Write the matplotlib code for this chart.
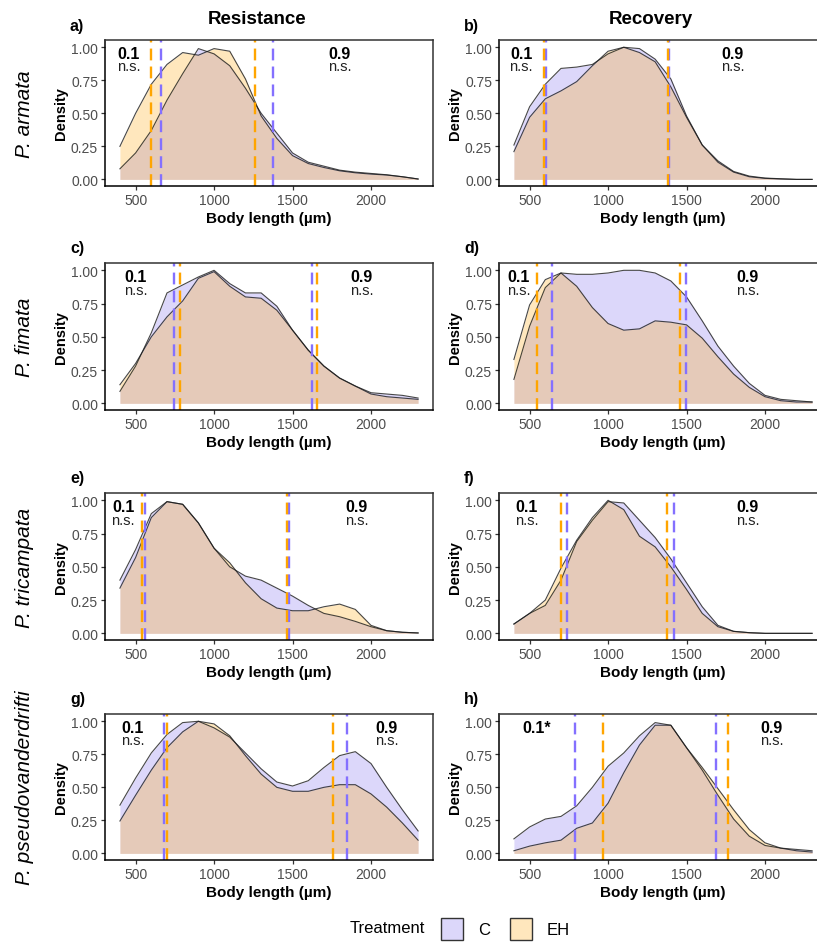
import matplotlib
matplotlib.use("Agg")
import matplotlib.pyplot as plt
from matplotlib.colors import to_rgba
from matplotlib.patches import Patch

plt.rcParams["font.family"] = ["Liberation Sans", "DejaVu Sans"]

# ===================
#  DATA
# ===================

# body lengths (µm) at which the scaled densities are sampled
BODY_LEN = [400, 500, 600, 700, 800, 900, 1000, 1100, 1200, 1300,
            1400, 1500, 1600, 1700, 1800, 1900, 2000, 2100, 2200, 2300]

SPECIES = ["P. armata", "P. fimata", "P. tricampata", "P. pseudovanderdrifti"]
EXPERIMENTS = ["Resistance", "Recovery"]
TREATMENTS = ["C", "EH"]

# scaled densities, one list per species x experiment x treatment
ARMATA_RES_C = [0.08, 0.20, 0.37, 0.60, 0.80, 0.99, 0.95, 0.86, 0.69, 0.50,
                0.35, 0.20, 0.13, 0.10, 0.07, 0.055, 0.045, 0.035, 0.02, 0.003]
ARMATA_RES_EH = [0.25, 0.50, 0.72, 0.87, 0.96, 0.94, 0.99, 0.97, 0.76, 0.48,
                 0.31, 0.18, 0.12, 0.09, 0.065, 0.05, 0.04, 0.033, 0.02, 0.003]
ARMATA_REC_C = [0.26, 0.55, 0.72, 0.84, 0.85, 0.87, 0.95, 1.00, 0.99, 0.91,
                0.76, 0.48, 0.26, 0.14, 0.06, 0.025, 0.01, 0.005, 0.0, 0.0]
ARMATA_REC_EH = [0.21, 0.47, 0.61, 0.67, 0.74, 0.86, 0.97, 1.00, 0.96, 0.89,
                 0.70, 0.47, 0.26, 0.13, 0.055, 0.02, 0.008, 0.003, 0.0, 0.0]

FIMATA_RES_C = [0.09, 0.28, 0.53, 0.83, 0.89, 0.95, 1.00, 0.90, 0.83, 0.83,
                0.73, 0.55, 0.40, 0.28, 0.19, 0.13, 0.08, 0.07, 0.06, 0.04]
FIMATA_RES_EH = [0.14, 0.30, 0.50, 0.65, 0.77, 0.94, 0.99, 0.88, 0.80, 0.79,
                 0.70, 0.55, 0.40, 0.28, 0.19, 0.13, 0.07, 0.05, 0.04, 0.03]
FIMATA_REC_C = [0.18, 0.58, 0.87, 0.98, 0.97, 0.97, 0.98, 1.00, 1.00, 0.98,
                0.92, 0.80, 0.62, 0.43, 0.28, 0.15, 0.06, 0.03, 0.02, 0.01]
FIMATA_REC_EH = [0.33, 0.74, 0.93, 0.98, 0.88, 0.72, 0.60, 0.55, 0.56, 0.62,
                 0.61, 0.59, 0.49, 0.35, 0.22, 0.12, 0.05, 0.02, 0.01, 0.01]

TRICAMP_RES_C = [0.40, 0.63, 0.90, 0.99, 0.97, 0.83, 0.64, 0.50, 0.43, 0.40,
                 0.34, 0.28, 0.21, 0.15, 0.125, 0.09, 0.05, 0.02, 0.008, 0.003]
TRICAMP_RES_EH = [0.34, 0.57, 0.87, 0.99, 0.97, 0.83, 0.64, 0.53, 0.38, 0.26,
                  0.19, 0.17, 0.17, 0.20, 0.22, 0.18, 0.06, 0.02, 0.008, 0.003]
TRICAMP_REC_C = [0.07, 0.15, 0.21, 0.40, 0.69, 0.85, 0.99, 0.98, 0.85, 0.72,
                 0.56, 0.38, 0.20, 0.06, 0.015, 0.005, 0.0, 0.0, 0.0, 0.0]
TRICAMP_REC_EH = [0.07, 0.15, 0.25, 0.49, 0.70, 0.87, 1.00, 0.93, 0.73, 0.65,
                  0.50, 0.33, 0.15, 0.05, 0.015, 0.005, 0.0, 0.0, 0.0, 0.0]

PSEUDO_RES_C = [0.365, 0.57, 0.76, 0.90, 0.99, 1.00, 0.95, 0.88, 0.76, 0.64,
                0.54, 0.51, 0.55, 0.65, 0.74, 0.77, 0.68, 0.50, 0.33, 0.17]
PSEUDO_RES_EH = [0.245, 0.44, 0.63, 0.80, 0.92, 1.00, 0.98, 0.89, 0.74, 0.60,
                 0.50, 0.47, 0.47, 0.50, 0.52, 0.52, 0.45, 0.35, 0.23, 0.10]
PSEUDO_REC_C = [0.11, 0.20, 0.26, 0.28, 0.36, 0.50, 0.66, 0.76, 0.89, 0.99,
                0.97, 0.80, 0.63, 0.44, 0.26, 0.13, 0.06, 0.04, 0.03, 0.02]
PSEUDO_REC_EH = [0.02, 0.055, 0.08, 0.10, 0.19, 0.23, 0.38, 0.61, 0.82, 0.97,
                 0.97, 0.80, 0.65, 0.49, 0.33, 0.18, 0.08, 0.04, 0.02, 0.01]

# 10% and 90% quantiles of body length (µm)
ARMATA_RES_Q = {"C": [661, 1377], "EH": [595, 1260]}
ARMATA_REC_Q = {"C": [605, 1390], "EH": [590, 1385]}
FIMATA_RES_Q = {"C": [746, 1625], "EH": [786, 1653]}
FIMATA_REC_Q = {"C": [645, 1495], "EH": [550, 1460]}
TRICAMP_RES_Q = {"C": [563, 1479], "EH": [542, 1466]}
TRICAMP_REC_Q = {"C": [740, 1420], "EH": [700, 1375]}
PSEUDO_RES_Q = {"C": [680, 1844], "EH": [703, 1755]}
PSEUDO_REC_Q = {"C": [790, 1690], "EH": [965, 1765]}

# quantile test results (0.1, 0.9)
ARMATA_RES_SIG = ["n.s.", "n.s."]
ARMATA_REC_SIG = ["n.s.", "n.s."]
FIMATA_RES_SIG = ["n.s.", "n.s."]
FIMATA_REC_SIG = ["n.s.", "n.s."]
TRICAMP_RES_SIG = ["n.s.", "n.s."]
TRICAMP_REC_SIG = ["n.s.", "n.s."]
PSEUDO_RES_SIG = ["n.s.", "n.s."]
PSEUDO_REC_SIG = ["*", "n.s."]

PANELS = [
    [(ARMATA_RES_C, ARMATA_RES_EH, ARMATA_RES_Q, ARMATA_RES_SIG),
     (ARMATA_REC_C, ARMATA_REC_EH, ARMATA_REC_Q, ARMATA_REC_SIG)],
    [(FIMATA_RES_C, FIMATA_RES_EH, FIMATA_RES_Q, FIMATA_RES_SIG),
     (FIMATA_REC_C, FIMATA_REC_EH, FIMATA_REC_Q, FIMATA_REC_SIG)],
    [(TRICAMP_RES_C, TRICAMP_RES_EH, TRICAMP_RES_Q, TRICAMP_RES_SIG),
     (TRICAMP_REC_C, TRICAMP_REC_EH, TRICAMP_REC_Q, TRICAMP_REC_SIG)],
    [(PSEUDO_RES_C, PSEUDO_RES_EH, PSEUDO_RES_Q, PSEUDO_RES_SIG),
     (PSEUDO_REC_C, PSEUDO_REC_EH, PSEUDO_REC_Q, PSEUDO_REC_SIG)],
]

# x position of the quantile annotations in each panel
LABEL_X = [
    [(455, 1800), (446, 1793)],
    [(500, 1940), (430, 1890)],
    [(421, 1907), (483, 1890)],
    [(481, 2099), (546, 2043)],
]

# ===================
#  STYLE / LAYOUT
# ===================

FILL = {"C": to_rgba("mediumslateblue", 0.26), "EH": to_rgba("orange", 0.26)}
VLINE = {"C": "#8470FF", "EH": "#FFA500"}
DASH = (0, (5, 2.6))
W, H = 817, 945

COL_LEFT = [105, 499]
AX_W = 328
ROWS = [(41, 187), (264, 411), (494, 641), (715, 861)]


def px_box(left, top, bottom):
    return [left / W, 1 - bottom / H, AX_W / W, (bottom - top) / H]


def draw_panel(ax, c, eh, q, sig, lab_x):
    for trt, dens in zip(TREATMENTS, [c, eh]):
        ax.fill_between(BODY_LEN, 0, dens, color=FILL[trt], lw=0)
    for dens in [c, eh]:
        ax.plot(BODY_LEN, dens, color="#1a1a1a", lw=0.8, alpha=0.8)
    for trt in TREATMENTS:
        for v in q[trt]:
            ax.axvline(v, color=VLINE[trt], lw=1.7, linestyle=DASH)

    for k, (lab, s) in enumerate(zip(["0.1", "0.9"], sig)):
        if s == "*":
            ax.text(lab_x[k], 0.955, lab + "*", ha="center", va="center",
                    fontsize=11.5, fontweight="bold")
        else:
            ax.text(lab_x[k], 0.955, lab, ha="center", va="center",
                    fontsize=11.5, fontweight="bold")
            ax.text(lab_x[k], 0.855, s, ha="center", va="center",
                    fontsize=10.5, color="#222222")

    ax.set_xlim(305, 2395)
    ax.set_ylim(-0.05, 1.055)
    ax.set_xticks([500, 1000, 1500, 2000])
    ax.set_yticks([0, 0.25, 0.5, 0.75, 1.0])
    ax.set_yticklabels(["0.00", "0.25", "0.50", "0.75", "1.00"])
    ax.tick_params(length=3, width=0.9, color="#333333",
                   labelsize=10, labelcolor="#4D4D4D", pad=2)
    for side in ["top", "right"]:
        ax.spines[side].set_color("#333333")
        ax.spines[side].set_linewidth(1.1)
    for side in ["left", "bottom"]:
        ax.spines[side].set_color("black")
        ax.spines[side].set_linewidth(1.1)
    ax.set_xlabel("Body length (µm)", fontsize=11, fontweight="bold",
                  labelpad=3)
    ax.set_ylabel("Density", fontsize=10.5, fontweight="bold", labelpad=2)


# ===================
#  FIGURE
# ===================

fig = plt.figure(figsize=(W / 100, H / 100), dpi=100)

letters = "abcdefgh"
for r, (top, bottom) in enumerate(ROWS):
    for col in range(2):
        ax = fig.add_axes(px_box(COL_LEFT[col], top, bottom))
        c, eh, q, sig = PANELS[r][col]
        draw_panel(ax, c, eh, q, sig, LABEL_X[r][col])
        fig.text((COL_LEFT[col] - 35) / W, 1 - (top - 15) / H,
                 letters[2 * r + col] + ")", fontsize=11.5,
                 fontweight="bold", ha="left", va="center")
    fig.text(25 / W, 1 - (top + bottom) / 2 / H, SPECIES[r], rotation=90,
             fontsize=15, style="italic", ha="center", va="center")

for col, title in enumerate(EXPERIMENTS):
    fig.text((COL_LEFT[col] + 152) / W, 1 - 19 / H, title, fontsize=13.5,
             fontweight="bold", ha="center", va="center")

# legend row
handles = [Patch(facecolor=FILL[t], edgecolor="#333333", linewidth=1.0)
           for t in TREATMENTS]
fig.text(425 / W, 1 - 929 / H, "Treatment", fontsize=12, ha="right",
         va="center")
fig.legend(handles, TREATMENTS, loc="center left",
           bbox_to_anchor=(433 / W, 1 - 930 / H), ncol=2, frameon=False,
           fontsize=12, handlelength=1.3, handleheight=1.7,
           handletextpad=0.9, columnspacing=1.2, borderpad=0)

fig.savefig("out.png", dpi=100)
